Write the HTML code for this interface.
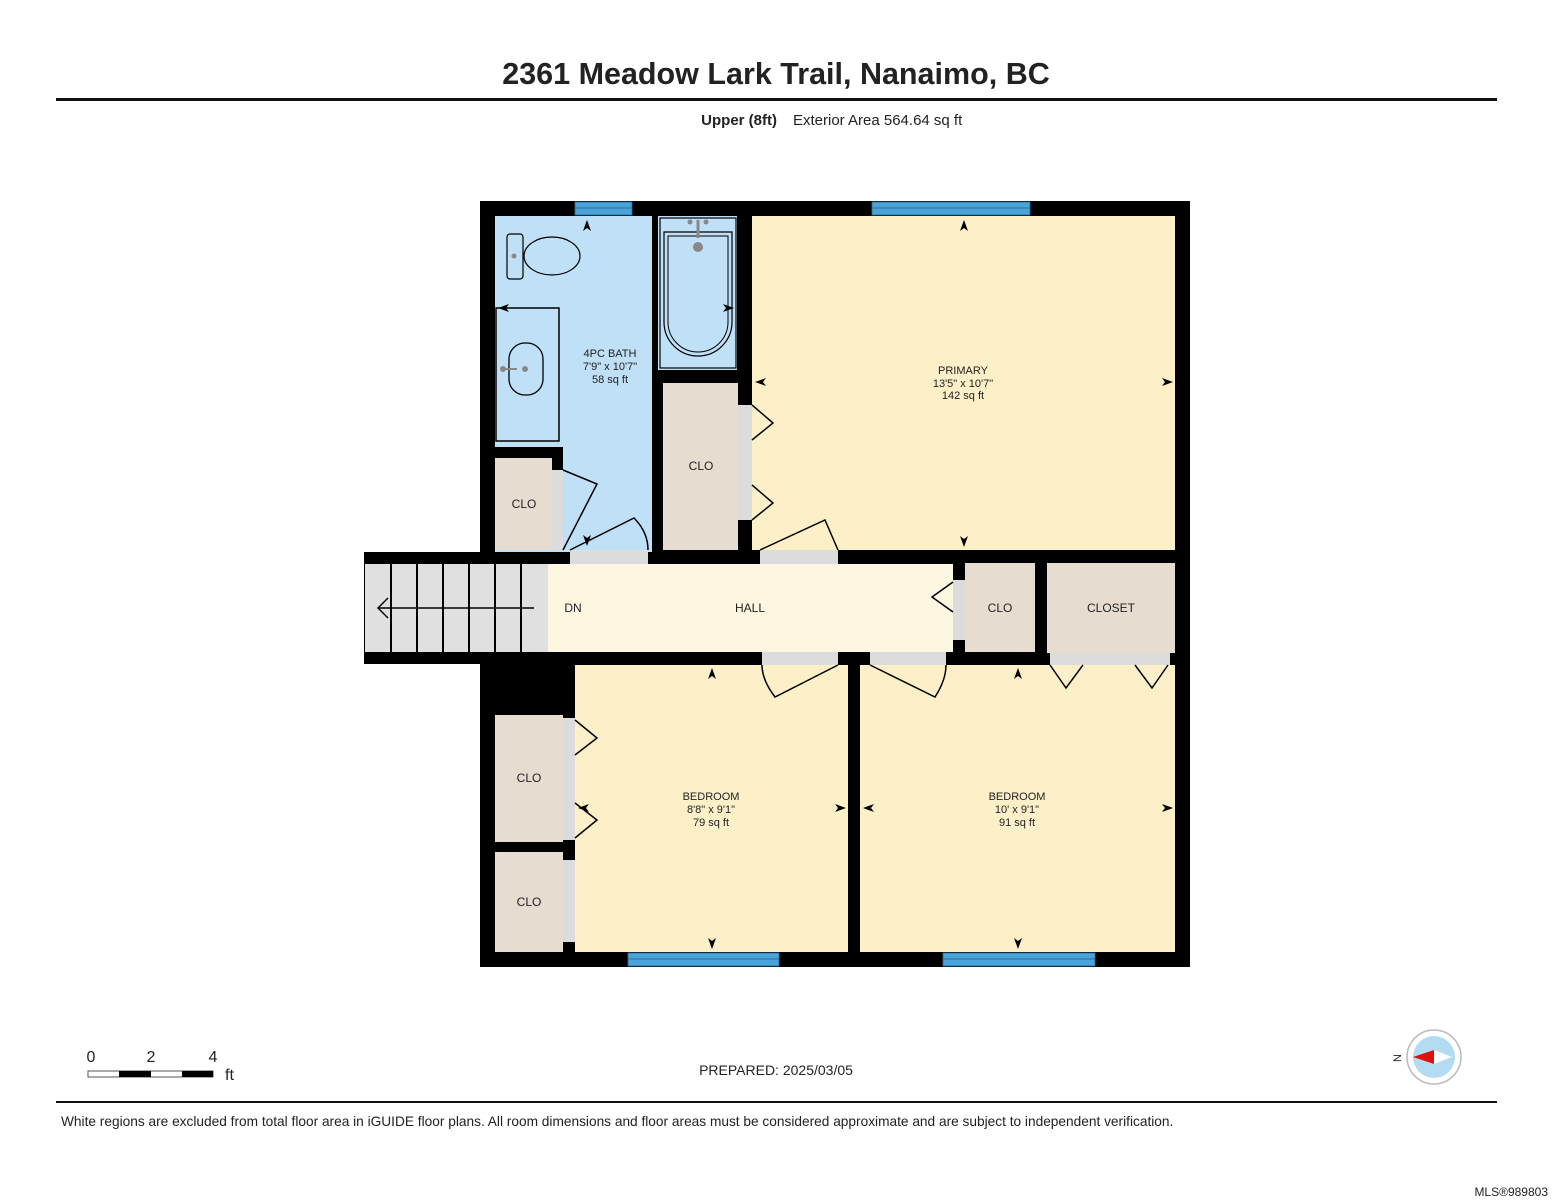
<!DOCTYPE html>
<html><head><meta charset="utf-8"><style>
html,body{margin:0;padding:0;background:#fff;width:1553px;height:1200px;overflow:hidden}
svg{display:block}
text{font-family:"Liberation Sans",Arial,sans-serif;fill:#222}
</style></head><body>
<svg width="1553" height="1200" viewBox="0 0 1553 1200" xmlns="http://www.w3.org/2000/svg">
<rect width="1553" height="1200" fill="#fff"/>
<text x="776" y="84" text-anchor="middle" font-size="30.5" font-weight="bold" fill="#111">2361 Meadow Lark Trail, Nanaimo, BC</text>
<rect x="56" y="98" width="1441" height="3" fill="#111"/>
<text x="777" y="125" text-anchor="end" font-size="15" font-weight="bold">Upper (8ft)</text>
<text x="793" y="125" font-size="15">Exterior Area 564.64 sq ft</text>

<rect x="480" y="201" width="710" height="766" fill="#000"/>
<rect x="495" y="216" width="157" height="336" fill="#bfe0f7"/>
<rect x="658" y="216" width="79" height="154" fill="#bfe0f7"/>
<rect x="752" y="216" width="423" height="334" fill="#fdf0c8"/>
<rect x="663" y="383" width="75" height="167" fill="#e6ddd0"/>
<rect x="495" y="447" width="68" height="11" fill="#000"/>
<rect x="552" y="447" width="11" height="23" fill="#000"/>
<rect x="495" y="458" width="57" height="92" fill="#e6ddd0"/>
<rect x="364" y="552" width="190" height="112" fill="#000"/>
<rect x="365" y="564" width="183" height="88" fill="#e0e0e0"/>
<g stroke="#000" stroke-width="2">
<line x1="391" y1="564" x2="391" y2="652"/><line x1="417" y1="564" x2="417" y2="652"/><line x1="443" y1="564" x2="443" y2="652"/><line x1="469" y1="564" x2="469" y2="652"/><line x1="495" y1="564" x2="495" y2="652"/><line x1="521" y1="564" x2="521" y2="652"/>
<line x1="378" y1="608" x2="534" y2="608" stroke-width="1.5"/>
<polyline points="388,598 378,608 388,618" fill="none" stroke-width="1.5"/>
</g>
<rect x="548" y="564" width="405" height="88" fill="#fdf6e0"/>
<rect x="965" y="563" width="70" height="89" fill="#e6ddd0"/>
<rect x="1047" y="563" width="128" height="90" fill="#e6ddd0"/>
<rect x="575" y="665" width="273" height="287" fill="#fdf0c8"/>
<rect x="860" y="665" width="315" height="287" fill="#fdf0c8"/>
<rect x="495" y="715" width="68" height="127" fill="#e6ddd0"/>
<rect x="495" y="852" width="68" height="100" fill="#e6ddd0"/>

<g fill="#dcdcdc">
<rect x="738" y="405" width="14" height="115"/>
<rect x="552" y="470" width="11" height="80"/>
<rect x="570" y="550" width="78" height="14"/>
<rect x="760" y="550" width="78" height="14"/>
<rect x="953" y="580" width="12" height="60"/>
<rect x="762" y="652" width="76" height="13"/>
<rect x="870" y="652" width="76" height="13"/>
<rect x="1050" y="653" width="120" height="12"/>
<rect x="563" y="718" width="12" height="122"/>
<rect x="563" y="860" width="12" height="82"/>
</g>
<rect x="496" y="308" width="63" height="133" fill="#bfe0f7" stroke="#000" stroke-width="1.5"/>
<rect x="509" y="343" width="34" height="52" rx="16" fill="none" stroke="#000" stroke-width="1.3"/>
<circle cx="525" cy="369" r="3" fill="#888"/><circle cx="503" cy="369" r="3" fill="#888"/><line x1="503" y1="369" x2="517" y2="369" stroke="#888" stroke-width="2"/>
<rect x="507" y="234" width="16" height="45" rx="3" fill="#bfe0f7" stroke="#000" stroke-width="1.2"/>
<ellipse cx="552" cy="256" rx="28" ry="19" fill="#bfe0f7" stroke="#000" stroke-width="1.2"/>
<circle cx="514" cy="256" r="2.5" fill="#888"/>
<rect x="660" y="218" width="76" height="150" fill="#bfe0f7" stroke="#000" stroke-width="1.2"/>
<path d="M664,232 h68 v90 a34,34 0 0 1 -68,0 z" fill="none" stroke="#000" stroke-width="1.2"/>
<path d="M668,236 h60 v86 a30,30 0 0 1 -60,0 z" fill="none" stroke="#000" stroke-width="1"/>
<circle cx="698" cy="247" r="5" fill="#888"/>
<line x1="698" y1="220" x2="698" y2="238" stroke="#888" stroke-width="3"/>
<circle cx="690" cy="222" r="2.5" fill="#888"/><circle cx="706" cy="222" r="2.5" fill="#888"/>
<g fill="#4aa3d8" stroke="#2a6f9a" stroke-width="0.8">
<rect x="575" y="202" width="57" height="13"/><rect x="872" y="202" width="158" height="13"/>
<rect x="628" y="953" width="151" height="13"/><rect x="943" y="953" width="152" height="13"/>
</g>
<g stroke="#2a6f9a" stroke-width="1"><line x1="575" y1="208" x2="632" y2="208"/><line x1="872" y1="208" x2="1030" y2="208"/><line x1="628" y1="959" x2="779" y2="959"/><line x1="943" y1="959" x2="1095" y2="959"/></g>

<g fill="none" stroke="#000" stroke-width="1.5">
<polyline points="752,405 773,423 752,440"/><polyline points="752,485 773,503 752,520"/>
<path d="M563,470 L597,484 L563,550"/>
<path d="M570,550 L634,518 Q648,532 648,550"/>
<path d="M838,550 L825,520 L760,550"/>
<polyline points="953,582 932,597 953,612"/>
<path d="M838,665 L775,697 Q762,680 762,665"/>
<path d="M870,665 L935,697 Q946,680 946,665"/>
<polyline points="1050,665 1066,688 1083,665"/><polyline points="1135,665 1152,688 1168,665"/>
<polyline points="575,720 597,738 575,755"/><polyline points="575,803 597,820 575,838"/>
</g>
<g fill="#000">
<polygon points="587,220 583,231 587,228 591,231"/>
<polygon points="964,220 960,231 964,228 968,231"/>
<polygon points="964,547 960,536 964,539 968,536"/>
<polygon points="587,546 583,535 587,538 591,535"/>
<polygon points="734,308 723,304 726,308 723,312"/>
<polygon points="498,308 509,304 506,308 509,312"/>
<polygon points="755,382 766,378 763,382 766,386"/>
<polygon points="1173,382 1162,378 1165,382 1162,386"/>
<polygon points="712,668 708,679 712,676 716,679"/>
<polygon points="712,949 708,938 712,941 716,938"/>
<polygon points="578,808 589,804 586,808 589,812"/>
<polygon points="846,808 835,804 838,808 835,812"/>
<polygon points="1018,668 1014,679 1018,676 1022,679"/>
<polygon points="1018,949 1014,938 1018,941 1022,938"/>
<polygon points="863,808 874,804 871,808 874,812"/>
<polygon points="1173,808 1162,804 1165,808 1162,812"/>
</g>

<g font-size="11" text-anchor="middle">
<text x="610" y="357">4PC BATH</text><text x="610" y="370">7'9" x 10'7"</text><text x="610" y="383">58 sq ft</text>
<text x="963" y="374">PRIMARY</text><text x="963" y="387">13'5" x 10'7"</text><text x="963" y="399">142 sq ft</text>
<text x="701" y="470" font-size="12">CLO</text>
<text x="524" y="508" font-size="12">CLO</text>
<text x="573" y="612" font-size="12">DN</text>
<text x="750" y="612" font-size="12">HALL</text>
<text x="1000" y="612" font-size="12">CLO</text>
<text x="1111" y="612" font-size="12">CLOSET</text>
<text x="529" y="782" font-size="12">CLO</text>
<text x="529" y="906" font-size="12">CLO</text>
<text x="711" y="800">BEDROOM</text><text x="711" y="813">8'8" x 9'1"</text><text x="711" y="826">79 sq ft</text>
<text x="1017" y="800">BEDROOM</text><text x="1017" y="813">10' x 9'1"</text><text x="1017" y="826">91 sq ft</text>
</g>

<text x="91" y="1062" font-size="16" text-anchor="middle">0</text>
<text x="151" y="1062" font-size="16" text-anchor="middle">2</text>
<text x="213" y="1062" font-size="16" text-anchor="middle">4</text>
<rect x="88" y="1071" width="125" height="6" fill="#fff" stroke="#555" stroke-width="1"/>
<rect x="119" y="1071" width="32" height="6" fill="#000"/><rect x="182" y="1071" width="31" height="6" fill="#000"/>
<text x="225" y="1080" font-size="16">ft</text>
<text x="776" y="1075" font-size="14" text-anchor="middle">PREPARED: 2025/03/05</text>
<circle cx="1434" cy="1057" r="27" fill="#fff" stroke="#bbb" stroke-width="1.5"/>
<circle cx="1434" cy="1057" r="21" fill="#b3dcf3"/>
<polygon points="1413,1057 1434,1050 1434,1064" fill="#e01010"/>
<polygon points="1434,1050 1452,1057 1434,1064" fill="#fff"/>
<text x="1398" y="1058" font-size="11" transform="rotate(-90 1398 1058)" text-anchor="middle" dominant-baseline="middle">N</text>

<rect x="56" y="1101" width="1441" height="2" fill="#111"/>
<text x="61" y="1126" font-size="13.7">White regions are excluded from total floor area in iGUIDE floor plans. All room dimensions and floor areas must be considered approximate and are subject to independent verification.</text>
<text x="1548" y="1196" font-size="12" text-anchor="end" fill="#bbb">MLS®989803</text>
</svg>
</body></html>
